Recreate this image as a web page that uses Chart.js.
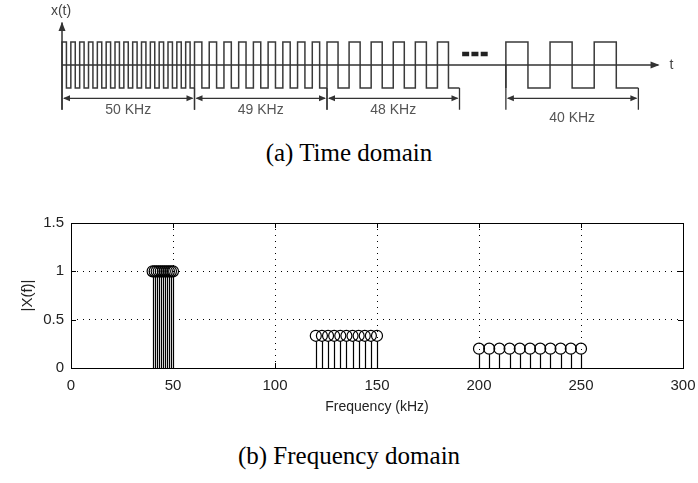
<!DOCTYPE html>
<html>
<head>
<meta charset="utf-8">
<script src="https://cdn.jsdelivr.net/npm/chart.js@4/dist/chart.umd.min.js"></script>
<style>
  body { margin: 0; background: #fff; width: 698px; height: 483px; position: relative; overflow: hidden; }
  #wave-box { position: absolute; left: 0; top: 0; width: 698px; height: 130px; }
  #spec-box { position: absolute; left: 0; top: 195px; width: 698px; height: 232px; }
  .caption { position: absolute; left: 0; width: 698px; text-align: center;
             font-family: 'Liberation Serif', 'Times New Roman', serif; font-size: 25px; color: #000; }
</style>
</head>
<body>
<div id="wave-box"><canvas id="wave"></canvas></div>
<div class="caption" style="top:139px">(a) Time domain</div>
<div id="spec-box"><canvas id="spectrum"></canvas></div>
<div class="caption" style="top:442px">(b) Frequency domain</div>
<script>
// time domain: one square-wave burst per frequency step
const segLabels = ['50 KHz', '49 KHz', '48 KHz', '40 KHz'];
const segCycles = [15, 9, 6, 3];
const segStart = [0, 1, 2, 3.35];
const segEnd = [1, 2, 3, 4.35];

// frequency domain: fundamental, 3rd and 5th harmonic lines
const fundFreq = [40, 41, 42, 43, 44, 45, 46, 47, 48, 49, 50];
const fundMag = [1, 1, 1, 1, 1, 1, 1, 1, 1, 1, 1];
const thirdFreq = [120, 123, 126, 129, 132, 135, 138, 141, 144, 147, 150];
const thirdMag = [0.333, 0.333, 0.333, 0.333, 0.333, 0.333, 0.333, 0.333, 0.333, 0.333, 0.333];
const fifthFreq = [200, 205, 210, 215, 220, 225, 230, 235, 240, 245, 250];
const fifthMag = [0.2, 0.2, 0.2, 0.2, 0.2, 0.2, 0.2, 0.2, 0.2, 0.2, 0.2];
const xTicks = [0, 50, 100, 150, 200, 250, 300];
const yTicks = [0, 0.5, 1, 1.5];

const SANS = "'Liberation Sans', Arial, sans-serif";

function squareWave(start, end, cycles) {
    const half = (end - start) / (2 * cycles);
    const pts = [];
    for (let k = 0; k < cycles; k++) {
        const t0 = start + 2 * k * half;
        pts.push({x: t0, y: -1}, {x: t0, y: 1}, {x: t0 + half, y: 1}, {x: t0 + half, y: -1});
    }
    pts.push({x: end, y: -1});
    return pts;
}

function arrowHead(ctx, x, y, dx, dy, len, w) {
    // tip at (x, y), pointing along (dx, dy)
    const px = -dy, py = dx;
    ctx.beginPath();
    ctx.moveTo(x, y);
    ctx.lineTo(x - dx * len + px * w, y - dy * len + py * w);
    ctx.lineTo(x - dx * len - px * w, y - dy * len - py * w);
    ctx.closePath();
    ctx.fill();
}

const waveDecor = {
    id: 'waveDecor',
    afterDatasetsDraw(chart) {
        const ctx = chart.ctx;
        const X = v => chart.scales.x.getPixelForValue(v);
        const Y = v => chart.scales.y.getPixelForValue(v);
        ctx.save();
        ctx.strokeStyle = '#333';
        ctx.fillStyle = '#333';
        ctx.lineWidth = 1.5;

        // axes
        ctx.beginPath();
        ctx.moveTo(X(0), Y(-1.95));
        ctx.lineTo(X(0), Y(1.85));
        ctx.moveTo(X(0), Y(0));
        ctx.lineTo(X(4.5), Y(0));
        ctx.stroke();
        arrowHead(ctx, X(0), Y(1.87), 0, -1, 9, 3.5);
        arrowHead(ctx, X(4.51), Y(0), 1, 0, 9, 3.5);

        ctx.font = '14px ' + SANS;
        ctx.fillStyle = '#444';
        ctx.textAlign = 'center';
        ctx.textBaseline = 'middle';
        ctx.fillText('x(t)', X(0) - 1, 11);
        ctx.fillText('t', X(4.6), Y(0));

        // "more steps" dashes between the bursts
        ctx.lineWidth = 4.5;
        ctx.strokeStyle = '#222';
        ctx.beginPath();
        [3.02, 3.09, 3.16].forEach(t => {
            ctx.moveTo(X(t), Y(0.48));
            ctx.lineTo(X(t) + 7, Y(0.48));
        });
        ctx.stroke();

        // dimension lines under each burst
        ctx.lineWidth = 1.3;
        ctx.strokeStyle = '#333';
        ctx.fillStyle = '#333';
        const dimY = Y(-1.45);
        segLabels.forEach((lab, i) => {
            const a = X(segStart[i]), b = X(segEnd[i]);
            ctx.beginPath();
            ctx.moveTo(a, i === 3 ? Y(0) : Y(-1));
            ctx.lineTo(a, Y(-1.95));
            ctx.moveTo(b, Y(-1));
            ctx.lineTo(b, Y(-1.95));
            ctx.moveTo(a + 2, dimY);
            ctx.lineTo(b - 2, dimY);
            ctx.stroke();
            arrowHead(ctx, a + 1, dimY, -1, 0, 7, 3);
            arrowHead(ctx, b - 1, dimY, 1, 0, 7, 3);
            ctx.save();
            ctx.fillStyle = '#555';
            ctx.font = '14px ' + SANS;
            ctx.fillText(lab, (a + b) / 2, i === 3 ? Y(-2.3) : Y(-1.98));
            ctx.restore();
        });
        ctx.restore();
    }
};

new Chart(document.getElementById('wave'), {
    type: 'scatter',
    data: {
        datasets: segLabels.map((lab, i) => ({
            label: lab,
            data: squareWave(segStart[i], segEnd[i], segCycles[i]),
            showLine: true,
            borderColor: '#3a3a3a',
            borderWidth: 1.5,
            pointRadius: 0,
            tension: 0
        }))
    },
    options: {
        responsive: true,
        maintainAspectRatio: false,
        animation: false,
        layout: { padding: 0 },
        plugins: { legend: { display: false }, tooltip: { enabled: false } },
        scales: {
            x: { type: 'linear', display: false, min: -0.468, max: 4.8 },
            y: { display: false, min: -2.83, max: 2.83 }
        }
    },
    plugins: [waveDecor]
});

// stems, box and inward tick marks for the spectrum
const stemPlot = {
    id: 'stemPlot',
    beforeDatasetsDraw(chart) {
        const ctx = chart.ctx;
        const xs = chart.scales.x, ys = chart.scales.y;
        ctx.save();
        ctx.strokeStyle = '#000';
        ctx.lineWidth = 1.2;
        ctx.beginPath();
        chart.data.datasets.forEach(ds => {
            ds.data.forEach(p => {
                const px = Math.round(xs.getPixelForValue(p.x)) + 0.5;
                ctx.moveTo(px, ys.getPixelForValue(0));
                ctx.lineTo(px, ys.getPixelForValue(p.y) + 5.5);
            });
        });
        ctx.stroke();
        ctx.restore();
    },
    afterDraw(chart) {
        const ctx = chart.ctx;
        const a = chart.chartArea;
        const xs = chart.scales.x, ys = chart.scales.y;
        ctx.save();
        ctx.strokeStyle = '#000';
        ctx.lineWidth = 1;
        ctx.strokeRect(Math.round(a.left) + 0.5, Math.round(a.top) + 0.5,
                       Math.round(a.right - a.left), Math.round(a.bottom - a.top));
        ctx.beginPath();
        xTicks.forEach(v => {
            const px = Math.round(xs.getPixelForValue(v)) + 0.5;
            ctx.moveTo(px, a.bottom); ctx.lineTo(px, a.bottom - 5);
            ctx.moveTo(px, a.top); ctx.lineTo(px, a.top + 5);
        });
        yTicks.forEach(v => {
            const py = Math.round(ys.getPixelForValue(v)) + 0.5;
            ctx.moveTo(a.left, py); ctx.lineTo(a.left + 5, py);
            ctx.moveTo(a.right, py); ctx.lineTo(a.right - 5, py);
        });
        ctx.stroke();
        ctx.restore();
    }
};

const toPoints = (fs, ms) => fs.map((f, i) => ({x: f, y: ms[i]}));
const stemStyle = {
    pointRadius: 5.5,
    pointBorderWidth: 1.2,
    pointBorderColor: '#000',
    pointBackgroundColor: 'rgba(0,0,0,0)',
    showLine: false
};

new Chart(document.getElementById('spectrum'), {
    type: 'scatter',
    data: {
        datasets: [
            Object.assign({label: 'fundamental', data: toPoints(fundFreq, fundMag)}, stemStyle),
            Object.assign({label: '3rd harmonic', data: toPoints(thirdFreq, thirdMag)}, stemStyle),
            Object.assign({label: '5th harmonic', data: toPoints(fifthFreq, fifthMag)}, stemStyle)
        ]
    },
    options: {
        responsive: true,
        maintainAspectRatio: false,
        animation: false,
        layout: { padding: { top: 28, right: 15, bottom: 9, left: 0 } },
        plugins: { legend: { display: false }, tooltip: { enabled: false } },
        scales: {
            x: {
                type: 'linear', min: 0, max: 300,
                afterBuildTicks: s => { s.ticks = xTicks.map(v => ({value: v})); },
                afterFit: s => { s.height = 50; s.paddingLeft = 0; s.paddingRight = 0; },
                grid: { color: '#000', lineWidth: 1, drawTicks: false },
                border: { display: false, dash: [1, 5] },
                ticks: { color: '#222', font: { family: SANS, size: 15 }, padding: 9, maxRotation: 0 },
                title: { display: true, text: 'Frequency (kHz)', color: '#222',
                         font: { family: SANS, size: 14 }, padding: { top: 0, bottom: 2 } }
            },
            y: {
                min: 0, max: 1.5,
                afterBuildTicks: s => { s.ticks = yTicks.map(v => ({value: v})); },
                afterFit: s => { s.width = 71; s.paddingTop = 0; s.paddingBottom = 0; },
                grid: { color: '#000', lineWidth: 1, drawTicks: false },
                border: { display: false, dash: [1, 5] },
                ticks: { color: '#222', font: { family: SANS, size: 15 }, padding: 7,
                         callback: v => String(v) },
                title: { display: true, text: '|X(f)|', color: '#222',
                         font: { family: SANS, size: 15 }, padding: { top: 19, bottom: 0 } }
            }
        }
    },
    plugins: [stemPlot]
});
</script>
</body>
</html>
